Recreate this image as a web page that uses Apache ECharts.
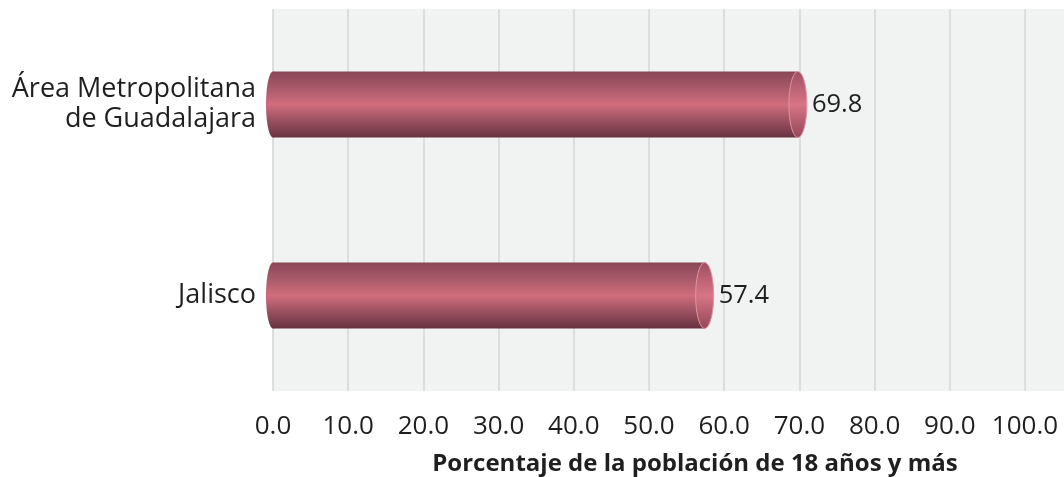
<!DOCTYPE html>
<html>
<head>
<meta charset="utf-8">
<script src="https://cdn.jsdelivr.net/npm/echarts@6/dist/echarts.min.js"></script>
<style>
  html, body { margin: 0; padding: 0; background: #ffffff; }
  #chart { width: 1064px; height: 477px; }
</style>
</head>
<body>
<div id="chart"></div>
<script>
// Categories listed bottom to top (category axis on y)
var categories = ['Jalisco', 'Área Metropolitana\nde Guadalajara'];
var values = [57.4, 69.8];
var tickValues = [0, 10, 20, 30, 40, 50, 60, 70, 80, 90, 100];
var axisTitle = 'Porcentaje de la población de 18 años y más';

var FONT = '"Open Sans", "DejaVu Sans", sans-serif';

var chart = echarts.init(document.getElementById('chart'), null, { renderer: 'canvas' });

var bodyFill = new echarts.graphic.LinearGradient(0, 0, 0, 1, [
  { offset: 0.00, color: '#8a4656' },
  { offset: 0.25, color: '#a95a6a' },
  { offset: 0.50, color: '#d16d7c' },
  { offset: 0.75, color: '#99505f' },
  { offset: 1.00, color: '#683241' }
]);
var capFill = new echarts.graphic.LinearGradient(0, 0, 0, 1, [
  { offset: 0.00, color: '#9c5062' },
  { offset: 0.50, color: '#d77584' },
  { offset: 1.00, color: '#934759' }
]);

function renderCylinder(params, api) {
  var v = api.value(1);
  var cat = api.value(0);
  var start = api.coord([0, cat]);
  var end = api.coord([v, cat]);
  var band = api.size([0, 1])[1];
  var h = band * 0.345;
  var cy = start[1];
  var rx = 9;
  return {
    type: 'group',
    children: [
      { // rounded back end
        type: 'ellipse',
        shape: { cx: start[0], cy: cy, rx: 7, ry: h / 2 },
        style: { fill: bodyFill }
      },
      { // cylinder body
        type: 'rect',
        shape: { x: start[0], y: cy - h / 2, width: end[0] - start[0], height: h },
        style: { fill: bodyFill }
      },
      { // front face
        type: 'ellipse',
        shape: { cx: end[0], cy: cy, rx: rx, ry: h / 2 },
        style: { fill: capFill, stroke: '#e096a2', lineWidth: 1 }
      },
      { // value label
        type: 'text',
        style: {
          x: end[0] + rx + 5, y: cy,
          text: v.toFixed(1),
          font: '25.5px ' + FONT,
          fill: '#1f1f1f',
          verticalAlign: 'middle',
          align: 'left'
        }
      }
    ]
  };
}

var option = {
  animation: false,
  backgroundColor: '#ffffff',
  title: {
    text: axisTitle,
    left: 695,
    top: 452,
    textAlign: 'center',
    padding: 0,
    textStyle: { fontSize: 24, fontWeight: 'bold', fontFamily: FONT, color: '#1f1f1f' }
  },
  grid: { left: 273, right: 39, top: 9, bottom: 86, containLabel: false },
  xAxis: {
    type: 'value',
    min: tickValues[0],
    max: tickValues[tickValues.length - 1],
    interval: tickValues[1] - tickValues[0],
    axisLine: { show: false },
    axisTick: { show: false },
    splitLine: { show: true, lineStyle: { color: '#dcdddd', width: 2 } },
    axisLabel: {
      margin: 23,
      fontSize: 26,
      fontFamily: FONT,
      color: '#1f1f1f',
      formatter: function (v) { return v.toFixed(1); }
    }
  },
  yAxis: {
    type: 'category',
    data: categories,
    axisLine: { show: false },
    axisTick: { show: false },
    splitLine: { show: false },
    axisLabel: {
      margin: 17,
      fontSize: 27,
      lineHeight: 30,
      fontFamily: FONT,
      color: '#1f1f1f',
      align: 'right'
    }
  },
  graphic: [{
    type: 'rect',
    z: -10,
    silent: true,
    shape: { x: 273, y: 9, width: 791, height: 382 },
    style: { fill: '#f1f2f2' }
  }],
  series: [{
    type: 'custom',
    renderItem: renderCylinder,
    encode: { x: 1, y: 0 },
    data: values.map(function (v, i) { return [i, v]; }),
    z: 5
  }]
};

chart.setOption(option);
</script>
</body>
</html>
